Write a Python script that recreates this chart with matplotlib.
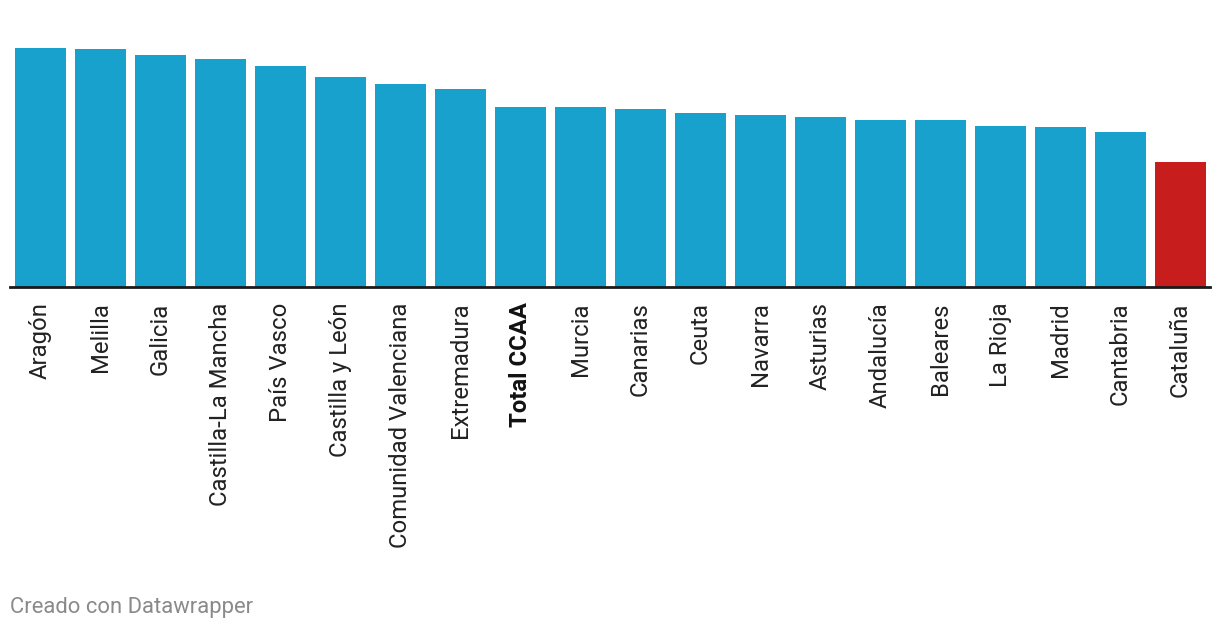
import matplotlib
matplotlib.use("Agg")
import matplotlib.pyplot as plt

categories = ["Aragón", "Melilla", "Galicia", "Castilla-La Mancha", "País Vasco",
              "Castilla y León", "Comunidad Valenciana", "Extremadura", "Total CCAA",
              "Murcia", "Canarias", "Ceuta", "Navarra", "Asturias", "Andalucía",
              "Baleares", "La Rioja", "Madrid", "Cantabria", "Cataluña"]
values = [239, 238, 232, 228, 221, 210, 203, 198, 180, 180, 178, 174, 172, 170,
          167, 167, 161, 160, 155, 125]

blue = "#19a1cd"
red = "#c71e1d"
colors = [red if c == "Cataluña" else blue for c in categories]

plt.rcParams['font.family'] = ['Roboto', 'DejaVu Sans']

W, H = 1220, 632
fig = plt.figure(figsize=(W / 100, H / 100), dpi=100)
base = 287
top = 40
ax = fig.add_axes([10 / W, (H - base) / H, 1200 / W, (base - top) / H])

x = list(range(len(categories)))
ax.bar(x, values, width=0.85, color=colors, zorder=2)
ax.set_xlim(-0.508, 19.49)
ax.set_ylim(0, base - top)

for s in ["top", "right", "left"]:
    ax.spines[s].set_visible(False)
ax.spines["bottom"].set_color("#1a1a1a")
ax.spines["bottom"].set_linewidth(2)
ax.set_yticks([])
ax.set_xticks(x)
ax.set_xticklabels(categories, rotation=90, fontsize=17.2, color="#222222")
ax.tick_params(axis="x", length=0, pad=11)
for lbl in ax.get_xticklabels():
    if lbl.get_text() == "Total CCAA":
        lbl.set_fontweight("bold")
        lbl.set_color("#111111")

fig.text(10 / W, 1 - 607 / H, "Creado con Datawrapper", fontsize=15.8,
         color="#8a8a8a", ha="left", va="center")

fig.savefig("out.png", dpi=100)
